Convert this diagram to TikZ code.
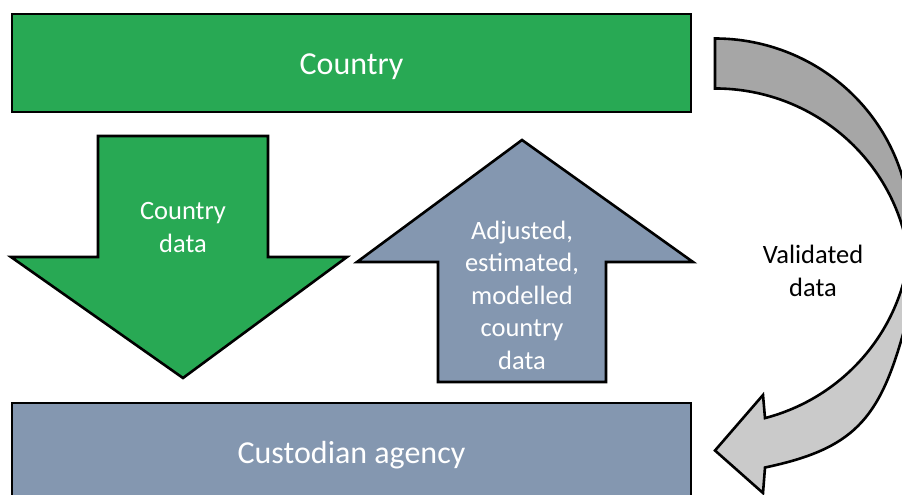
\documentclass[tikz,border=0pt]{standalone}
\usepackage{fontspec}
\setmainfont{Carlito}
\definecolor{cgreen}{HTML}{28A954}
\definecolor{cblue}{HTML}{8497B0}
\definecolor{cdark}{HTML}{A6A6A6}
\definecolor{clight}{HTML}{CACACA}
\tikzset{
  outl/.style={draw=black, line width=2.6pt, line join=miter},
  bigbox/.style={outl, minimum width=679pt, inner sep=0pt, text depth=0pt, text=white, font=\fontsize{32}{38}\selectfont},
  arrowtext/.style={text=white, align=center, font=\fontsize{26.5}{32.5}\selectfont},
  sidetext/.style={text=black, align=center, font=\fontsize{26.5}{32.5}\selectfont},
  eA/.style={x radius=195.4pt, y radius=193pt}
}
\begin{document}
\begin{tikzpicture}[x=1pt,y=1pt]
\useasboundingbox (0,0) rectangle (902,495);
\clip (0,0) rectangle (902,495);
% top and bottom boxes
\node[bigbox, fill=cgreen, minimum height=98pt, text height=23.6pt] (country) at (351.5,432) {Country};
\node[bigbox, fill=cblue, minimum height=100pt, text height=20.6pt] (custodian) at (351.5,42) {Custodian agency};
% down arrow (green)
\draw[outl, fill=cgreen] (98,359) -- (268,359) -- (268,238) -- (347,238) -- (183,117) -- (11,238) -- (98,238) -- cycle;
\node[arrowtext] (cdata) at (183,267.5) {Country\\data};
% up arrow (blue-grey)
\draw[outl, fill=cblue] (522,355) -- (693,233) -- (606,233) -- (606,113) -- (438,113) -- (438,233) -- (357,233) -- cycle;
\node[arrowtext] (adata) at (522,200) {Adjusted,\\estimated,\\modelled\\country\\data};
% curved arrow: back (dark) part
\draw[outl, fill=cdark] (715,456.5) arc[start angle=90, end angle=-7.44, eA]
  arc[start angle=7.44, end angle=90, eA] -- cycle;
% curved arrow: front (light) part with head
\draw[outl, fill=clight] (908.75,238.5) arc[start angle=7.44, end angle=-15.47, eA]
  .. controls (879,75.3) and (853.2,46) .. (765,27.5)
  -- (763,2) -- (715,44.5) -- (763,100) -- (765,76.9)
  arc[start angle=-75.17, end angle=-7.44, eA] -- cycle;
\node[sidetext] (vdata) at (813,224) {Validated\\data};
\end{tikzpicture}
\end{document}
